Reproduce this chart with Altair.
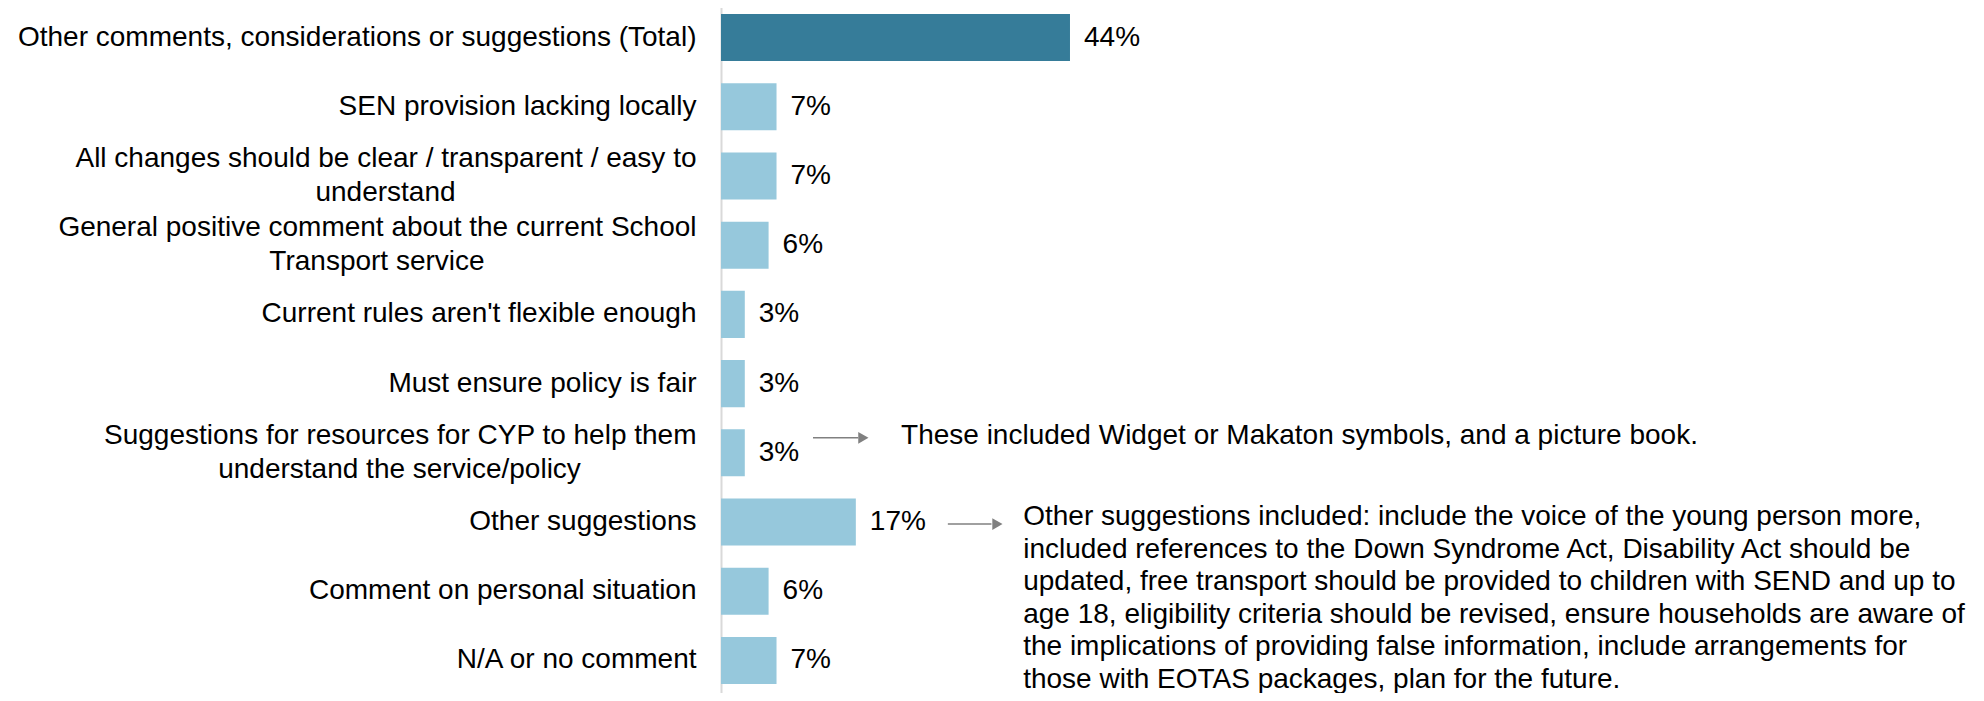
import altair as alt
import pandas as pd

# ---- data ----
label_lines = [
    ["Other comments, considerations or suggestions (Total)"],
    ["SEN provision lacking locally"],
    ["All changes should be clear / transparent / easy to", "understand"],
    ["General positive comment about the current School", "Transport service"],
    ["Current rules aren't flexible enough"],
    ["Must ensure policy is fair"],
    ["Suggestions for resources for CYP to help them", "understand the service/policy"],
    ["Other suggestions"],
    ["Comment on personal situation"],
    ["N/A or no comment"],
]
values = [44, 7, 7, 6, 3, 3, 3, 17, 6, 7]
groups = ["total"] + ["sub"] * 9

note1_lines = ["These included Widget or Makaton symbols, and a picture book."]
note2_lines = [
    "Other suggestions included: include the voice of the young person more,",
    "included references to the Down Syndrome Act, Disability Act should be",
    "updated, free transport should be provided to children with SEND and up to",
    "age 18, eligibility criteria should be revised, ensure households are aware of",
    "the implications of providing false information, include arrangements for",
    "those with EOTAS packages, plan for the future.",
]

categories = ["|".join(l) for l in label_lines]

df = pd.DataFrame({
    "cat": categories,
    "value": values,
    "group": groups,
    "label": [f"{v}%" for v in values],
})

# ---- layout / style ----
FONT = "Liberation Sans"
FS = 28
X_MAX = 157.6
PLOT_W = 1250
PX_PER_UNIT = PLOT_W / X_MAX
LABEL_PAD = 25
LINE_H = 34

# Arial / Liberation Sans advance widths (1/1000 em), used to centre the
# second line of a two-line label under its first line.
_W = {" ": 278, "/": 278, "'": 191, ",": 278, ".": 278, "(": 333, ")": 333, "-": 333}
_W.update(dict(zip("ABCDEFGHIJKLMNOPQRSTUVWXYZ",
                   [667, 667, 722, 722, 667, 611, 778, 722, 278, 500, 667, 556, 833,
                    722, 778, 667, 778, 722, 667, 611, 722, 667, 944, 667, 667, 611])))
_W.update(dict(zip("abcdefghijklmnopqrstuvwxyz",
                   [556, 556, 500, 556, 556, 278, 556, 556, 222, 222, 500, 222, 833,
                    556, 556, 556, 556, 333, 500, 278, 556, 500, 722, 500, 500, 500])))


def text_px(s):
    return sum(_W.get(c, 556) for c in s) * FS / 1000.0


second = [(c, l[1], -(LABEL_PAD + text_px(l[0]) / 2) / PX_PER_UNIT)
          for c, l in zip(categories, label_lines) if len(l) > 1]
df2 = pd.DataFrame(second, columns=["cat", "line2", "xpos"])

y_enc = alt.Y(
    "cat:N",
    sort=categories,
    scale=alt.Scale(paddingInner=0.32, paddingOuter=0.173),
    axis=alt.Axis(
        title=None,
        labelExpr="split(datum.label, '|')[0]",
        labelFont=FONT,
        labelFontSize=FS,
        labelColor="#000000",
        labelPadding=LABEL_PAD,
        labelLimit=0,
        labelOffset={"condition": {"test": "indexof(datum.label, '|') >= 0",
                                   "value": -LINE_H / 2}, "value": 0},
        ticks=False,
        domainColor="#D9D9D9",
        domainWidth=2,
        grid=False,
    ),
)
yy = alt.Y("cat:N", sort=categories)
x_scale = alt.Scale(domain=[0, X_MAX], nice=False)

base = alt.Chart(df)

bars = base.mark_bar().encode(
    x=alt.X("value:Q", scale=x_scale, axis=None),
    y=y_enc,
    color=alt.Color(
        "group:N",
        scale=alt.Scale(domain=["total", "sub"], range=["#367C99", "#96C8DC"]),
        legend=None,
    ),
)

vals = base.mark_text(
    align="left", baseline="middle", dx=14, font=FONT, fontSize=FS, color="#000000"
).encode(x=alt.X("value:Q"), y=yy, text="label:N")

label2 = alt.Chart(df2).mark_text(
    align="center", baseline="middle", dy=LINE_H / 2, font=FONT, fontSize=FS, color="#000000"
).encode(x=alt.X("xpos:Q"), y=yy, text="line2:N")

# annotation positions in percent units
ann = pd.DataFrame({
    "cat": [categories[6], categories[7]],
    "a0": [11.6, 28.6],
    "a1": [17.3, 34.1],
    "head": [17.95, 34.85],
    "tx": [22.7, 38.1],
    "note": ["|".join(note1_lines), "|".join(note2_lines)],
})
a_base = alt.Chart(ann)

lines1 = a_base.transform_filter(alt.datum.cat == categories[6]).mark_rule(
    color="#808080", strokeWidth=1.5, yOffset=-15
).encode(x="a0:Q", x2="a1:Q", y=yy)
heads1 = a_base.transform_filter(alt.datum.cat == categories[6]).mark_point(
    shape="triangle-right", filled=True, color="#808080", size=140, opacity=1, yOffset=-15
).encode(x="head:Q", y=yy)
lines2 = a_base.transform_filter(alt.datum.cat == categories[7]).mark_rule(
    color="#808080", strokeWidth=1.5, yOffset=2
).encode(x="a0:Q", x2="a1:Q", y=yy)
heads2 = a_base.transform_filter(alt.datum.cat == categories[7]).mark_point(
    shape="triangle-right", filled=True, color="#808080", size=140, opacity=1, yOffset=2
).encode(x="head:Q", y=yy)

note1 = a_base.transform_filter(alt.datum.cat == categories[6]).mark_text(
    align="left", baseline="middle", dy=-17, font=FONT, fontSize=FS, color="#000000",
    lineBreak="|",
).encode(x="tx:Q", y=yy, text="note:N")

note2 = a_base.transform_filter(alt.datum.cat == categories[7]).mark_text(
    align="left", baseline="top", dy=-19, font=FONT, fontSize=FS, color="#000000",
    lineHeight=32.6, lineBreak="|",
).encode(x="tx:Q", y=yy, text="note:N")

chart = alt.layer(
    bars, vals, label2, lines1, heads1, lines2, heads2, note1, note2
).properties(
    width=PLOT_W,
    height=694,
    autosize=alt.AutoSizeParams(type="none"),
    padding={"left": 713, "top": -6, "right": 0, "bottom": -3},
    background="white",
).configure_view(stroke=None)

chart.save("out.html", embed_options={"renderer": "svg", "actions": False})
